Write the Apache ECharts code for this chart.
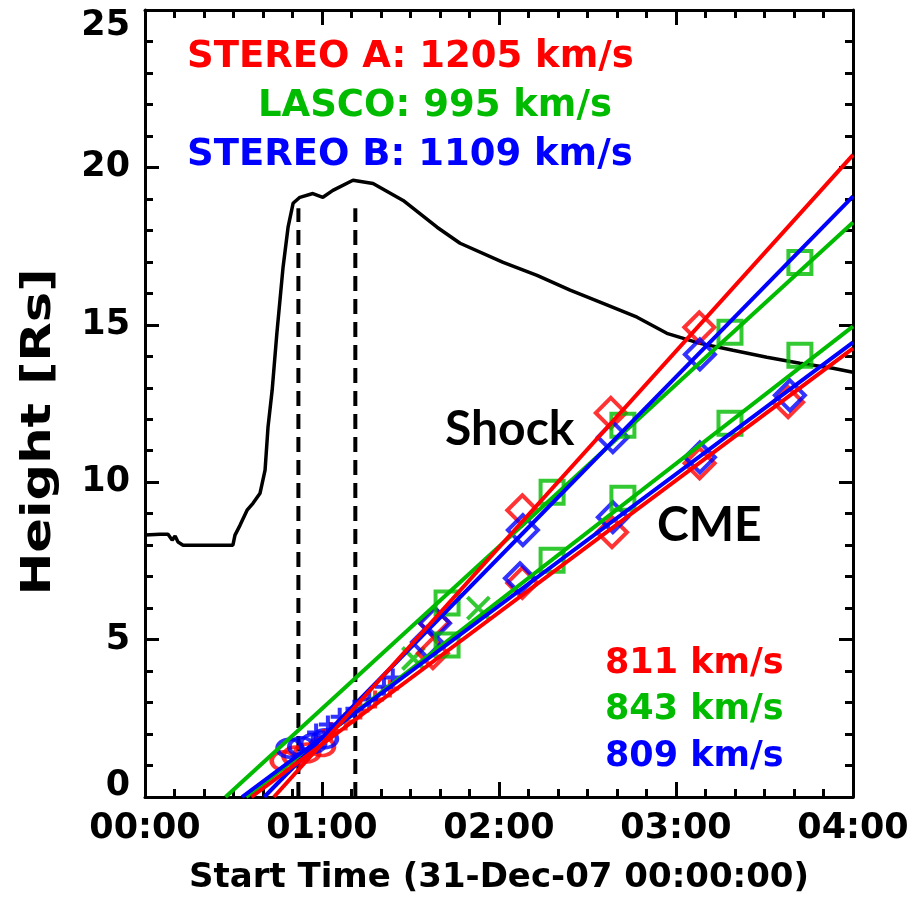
<!DOCTYPE html>
<html>
<head>
<meta charset="utf-8">
<script src="https://cdn.jsdelivr.net/npm/echarts@6/dist/echarts.min.js"></script>
<style>
html,body{margin:0;padding:0;background:#fff;}
#chart{width:922px;height:900px;}
</style>
</head>
<body>
<div id="chart"></div>
<script>
// ---------------- DATA ----------------
// time in minutes after 00:00 (31-Dec-07), height in Rs
const xTickLabels = ['00:00','01:00','02:00','03:00','04:00'];

// black background curve (scaled flux profile)
const curveT = [0,5.1,7.8,9.2,10.2,11.2,12.9,29.8,30.5,32.2,34.6,36.6,39.0,40.7,41.7,43.1,44.7,46.8,48.5,50.2,52.5,56.9,60.3,63.7,70.5,77.3,87.5,99.0,106.8,121.4,132.9,144.1,155.3,166.8,176.9,188.1,199.3,210.8,222.0,233.2,240];
const curveV = [8.32,8.35,8.35,8.16,8.29,8.1,8.0,8.0,8.32,8.63,9.11,9.33,9.65,10.38,11.75,12.92,14.73,16.83,18.10,18.86,19.05,19.17,19.05,19.27,19.59,19.49,18.95,18.10,17.59,16.98,16.57,16.10,15.68,15.24,14.73,14.41,14.19,13.97,13.78,13.62,13.49];

// dashed vertical markers
const dashT = [52.0, 71.3];
const dashTop = 18.7;

// linear fits: [start time at 0 Rs, end time, end height]
const fitShockA = [43.7, 240, 20.4];
const fitShockL = [27.3, 240, 18.25];
const fitShockB = [40.4, 240, 19.08];
const fitCmeA = [36.1, 240, 14.25];
const fitCmeL = [34.3, 240, 14.95];
const fitCmeB = [32.9, 240, 14.44];

// measurements
const shockAT = [97.9, 127.9, 157.9, 187.9];
const shockAV = [5.55, 9.11, 12.2, 14.92];
const shockBT = [98.3, 128.1, 158.6, 188.1];
const shockBV = [5.52, 8.48, 11.43, 14.06];
const shockLT = [102.4, 138, 162, 198.3, 222];
const shockLV = [6.16, 9.68, 11.81, 14.76, 16.98];
const cmeAT = [97.6, 127.9, 158.3, 188, 218];
const cmeAV = [4.57, 6.8, 8.41, 10.6, 12.54];
const cmeBT = [95.6, 127.1, 158.6, 188.1, 218.6];
const cmeBV = [4.92, 6.95, 8.89, 10.79, 12.76];
const cmeLT = [102.4, 138, 162, 198.3, 222];
const cmeLV = [4.83, 7.52, 9.49, 11.87, 14.03];
const cor1AT = [47, 51, 55, 60];
const cor1AV = [1.15, 1.3, 1.4, 1.6];
const cor1BT = [49, 53, 57, 61];
const cor1BV = [1.55, 1.6, 1.7, 1.85];
const plusAT = [63, 68, 73, 78, 83];
const plusAV = [2.1, 2.4, 2.75, 3.1, 3.45];
const plusBT = [58, 62, 66, 71, 76, 81, 84];
const plusBV = [2.05, 2.3, 2.55, 2.8, 3.1, 3.5, 3.8];
const c2T = [91, 113];
const c2V = [4.4, 6.0];

const speedTop = ['STEREO A: 1205 km/s', 'LASCO: 995 km/s', 'STEREO B: 1109 km/s'];
const speedBottom = ['811 km/s', '843 km/s', '809 km/s'];
const yTitle = 'Height [Rs]';
const xTitle = 'Start Time (31-Dec-07 00:00:00)';

// ---------------- STYLE ----------------
const RED = '#ff0000', GREEN = '#00bb00', BLUE = '#0000ff';
const FONT = 'DejaVu Sans';
const zip = (a, b) => a.map((v, i) => [v, b[i]]);
const fitData = f => [[f[0], 0], [f[1], f[2]]];

function fitSeries(f, color) {
  return {type:'line', data: fitData(f), symbol:'none', silent:true,
    lineStyle:{color, width:4}, z:3};
}
function scat(t, v, color, symbol, size) {
  return {type:'scatter', data: zip(t, v), symbol, symbolSize:size, silent:true,
    itemStyle:{color:'rgba(0,0,0,0)', borderColor:color, borderWidth:4}, z:2};
}
const PLUS = 'path://M5,0L5,10M0,5L10,5';
const CROSS = 'path://M0,0L10,10M10,0L0,10';

const fmtTime = v => {
  const h = Math.floor(v / 60), m = Math.round(v % 60);
  return (h < 10 ? '0' : '') + h + ':' + (m < 10 ? '0' : '') + m;
};

const axisLineStyle = {color:'#000', width:3};
const xCommon = {
  type:'value', min:0, max:240, interval:60,
  axisLine:{show:true, onZero:false, lineStyle:axisLineStyle},
  axisTick:{show:true, inside:true, length:15, lineStyle:{color:'#000', width:3}},
  minorTick:{show:true, splitNumber:6, length:8, lineStyle:{color:'#000', width:3}},
  splitLine:{show:false}, minorSplitLine:{show:false}
};
const yCommon = {
  type:'value', min:0, max:25, interval:5,
  axisLine:{show:true, onZero:false, lineStyle:axisLineStyle},
  axisTick:{show:true, inside:true, length:14, lineStyle:{color:'#000', width:3}},
  minorTick:{show:true, splitNumber:5, length:8, lineStyle:{color:'#000', width:3}},
  splitLine:{show:false}, minorSplitLine:{show:false}
};

const chart = echarts.init(document.getElementById('chart'), null, {renderer:'canvas'});
const option = {
  animation:false,
  backgroundColor:'#fff',
  grid:{left:145, right:69, top:10, bottom:103},
  xAxis:[
    Object.assign({}, xCommon, {position:'bottom',
      name:xTitle, nameLocation:'middle', nameGap:64,
      nameTextStyle:{fontFamily:FONT, fontWeight:'bold', fontSize:34, color:'#000'},
      axisLabel:{show:true, margin:14, color:'#000', fontFamily:FONT, fontWeight:'bold', fontSize:35,
        formatter: v => xTickLabels[Math.round(v/60)] || fmtTime(v)}}),
    Object.assign({}, xCommon, {position:'top', axisLabel:{show:false}})
  ],
  yAxis:[
    Object.assign({}, yCommon, {position:'left',
      axisLabel:{show:true, margin:15, color:'#000', fontFamily:FONT, fontWeight:'bold', fontSize:35,
        formatter: v => v === 0 ? '{lo|0}' : (v === 25 ? '{hi|25}' : String(v)),
        rich:{lo:{padding:[0,0,22,0], fontFamily:FONT, fontWeight:'bold', fontSize:35, color:'#000'},
              hi:{padding:[32,0,0,0], fontFamily:FONT, fontWeight:'bold', fontSize:35, color:'#000'}}}}),
    Object.assign({}, yCommon, {position:'right', axisLabel:{show:false}})
  ],
  series:[
    {type:'line', data: zip(curveT, curveV), symbol:'none', silent:true,
      lineStyle:{color:'#000', width:3.5}, z:1},
    {type:'line', data: [[dashT[0],0],[dashT[0],dashTop]], symbol:'none', silent:true,
      lineStyle:{color:'#000', width:4, type:[15,8]}, z:1},
    {type:'line', data: [[dashT[1],0],[dashT[1],dashTop]], symbol:'none', silent:true,
      lineStyle:{color:'#000', width:4, type:[15,8]}, z:1},
    scat(cor1AT, cor1AV, RED, 'circle', [24,18]),
    scat(cor1BT, cor1BV, BLUE, 'circle', [24,18]),
    scat(plusAT, plusAV, RED, PLUS, 18),
    scat(plusBT, plusBV, BLUE, PLUS, 18),
    scat(c2T, c2V, GREEN, CROSS, 22),
    scat(shockAT, shockAV, RED, 'diamond', 30),
    scat(shockBT, shockBV, BLUE, 'diamond', 30),
    scat(shockLT, shockLV, GREEN, 'rect', 23),
    scat(cmeAT, cmeAV, RED, 'diamond', 30),
    scat(cmeBT, cmeBV, BLUE, 'diamond', 30),
    scat(cmeLT, cmeLV, GREEN, 'rect', 23),
    fitSeries(fitShockL, GREEN),
    fitSeries(fitCmeL, GREEN),
    fitSeries(fitShockB, BLUE),
    fitSeries(fitCmeB, BLUE),
    fitSeries(fitShockA, RED),
    fitSeries(fitCmeA, RED)
  ],
  graphic:[
    {type:'text', x:40, y:432, rotation:Math.PI/2, scaleX:1.28,
      style:{text:yTitle, fill:'#000', font:'bold 40px "DejaVu Sans"', textAlign:'center', textVerticalAlign:'middle'}},
    {type:'text', x:187, y:57, style:{text:speedTop[0], fill:RED, font:'bold 37px "DejaVu Sans"', textVerticalAlign:'middle'}},
    {type:'text', x:258, y:106, style:{text:speedTop[1], fill:GREEN, font:'bold 37px "DejaVu Sans"', textVerticalAlign:'middle'}},
    {type:'text', x:187, y:155, style:{text:speedTop[2], fill:BLUE, font:'bold 37px "DejaVu Sans"', textVerticalAlign:'middle'}},
    {type:'text', x:605, y:664, style:{text:speedBottom[0], fill:RED, font:'bold 35px "DejaVu Sans"', textVerticalAlign:'middle'}},
    {type:'text', x:605, y:710, style:{text:speedBottom[1], fill:GREEN, font:'bold 35px "DejaVu Sans"', textVerticalAlign:'middle'}},
    {type:'text', x:605, y:757, style:{text:speedBottom[2], fill:BLUE, font:'bold 35px "DejaVu Sans"', textVerticalAlign:'middle'}},
    {type:'text', x:445, y:430, style:{text:'Shock', fill:'#000', font:'bold 48px Lato', textVerticalAlign:'middle'}},
    {type:'text', x:657, y:526, style:{text:'CME', fill:'#000', font:'bold 48px Lato', textVerticalAlign:'middle'}}
  ]
};
chart.setOption(option);
</script>
</body>
</html>
